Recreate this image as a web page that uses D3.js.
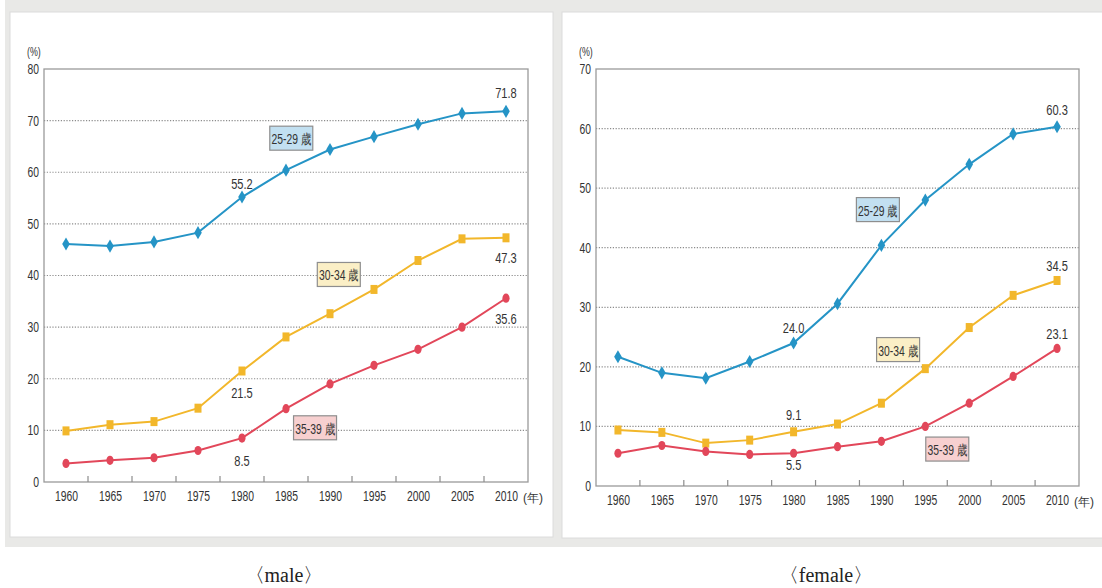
<!DOCTYPE html>
<html>
<head>
<meta charset="utf-8">
<script src="https://cdn.jsdelivr.net/npm/d3@7.9.0/dist/d3.min.js"></script>
<style>
  body { margin: 0; background: #fff; }
  text { font-family: "Liberation Sans", Arial, sans-serif; fill: #333; }
  .caption { font-family: "Liberation Serif", "DejaVu Serif", serif; font-size: 20px; fill: #222; }
</style>
</head>
<body>
<svg id="chart" width="1102" height="588"></svg>
<script>
// data (never-married rate, %)
const years = [1960, 1965, 1970, 1975, 1980, 1985, 1990, 1995, 2000, 2005, 2010];
const groups = ['25-29 歳', '30-34 歳', '35-39 歳'];

const male2529 = [46.1, 45.7, 46.5, 48.3, 55.2, 60.4, 64.4, 66.9, 69.3, 71.4, 71.8];
const male3034 = [9.9, 11.1, 11.7, 14.3, 21.5, 28.1, 32.6, 37.3, 42.9, 47.1, 47.3];
const male3539 = [3.6, 4.2, 4.7, 6.1, 8.5, 14.2, 19.0, 22.6, 25.7, 30.0, 35.6];

const female2529 = [21.7, 19.0, 18.1, 20.9, 24.0, 30.6, 40.4, 48.0, 54.0, 59.1, 60.3];
const female3034 = [9.4, 9.0, 7.2, 7.7, 9.1, 10.4, 13.9, 19.7, 26.6, 32.0, 34.5];
const female3539 = [5.5, 6.8, 5.8, 5.3, 5.5, 6.6, 7.5, 10.0, 13.9, 18.4, 23.1];

const maleTicks = [0, 10, 20, 30, 40, 50, 60, 70, 80];
const femaleTicks = [0, 10, 20, 30, 40, 50, 60, 70];

// where the group tag boxes sit, in data units [year, value]
const maleTagYears = [1985.6, 1991.0, 1988.3];
const maleTagVals = [66.6, 40.2, 10.5];
const femaleTagYears = [1989.6, 1991.9, 1997.5];
const femaleTagVals = [46.4, 22.9, 6.2];

// value labels: [series, year index, offset]
const maleLabels = [[0, 4, -14], [0, 10, -19], [1, 4, 21], [1, 10, 20], [2, 4, 22], [2, 10, 20]];
const femaleLabels = [[0, 4, -16], [0, 10, -17], [1, 4, -17], [1, 10, -15], [2, 4, 11], [2, 10, -15]];

const colors = ['#2594c6', '#f2b72b', '#e2475a'];
const tagFills = ['#c2e0f1', '#fbefc6', '#f7d0d0'];

const svg = d3.select('#chart');

// grey backdrop + white panels
svg.append('rect').attr('x', 5).attr('y', 0).attr('width', 1097).attr('height', 547).attr('fill', '#e9e9e7');
svg.append('rect').attr('x', 10).attr('y', 12).attr('width', 543).attr('height', 525)
  .attr('fill', '#fff').attr('stroke', '#dcdcdc');
svg.append('rect').attr('x', 562).attr('y', 12).attr('width', 545).attr('height', 526)
  .attr('fill', '#fff').attr('stroke', '#dcdcdc');

function drawChart(opt) {
  const { left, right, top, bottom, yMax, ticks, series, tagYears, tagVals, labels } = opt;
  const g = svg.append('g');

  const x = d3.scaleLinear().domain([1957.5, 2012.5]).range([left, right]);
  const y = d3.scaleLinear().domain([0, yMax]).range([bottom, top]);

  // dotted grid
  g.selectAll('.grid')
    .data(ticks.filter(t => t > 0 && t < yMax))
    .join('line')
    .attr('x1', left).attr('x2', right)
    .attr('y1', d => y(d)).attr('y2', d => y(d))
    .attr('stroke', '#8c8c8c').attr('stroke-width', 1.2)
    .attr('stroke-dasharray', '1.2,1.6');

  // frame
  g.append('rect')
    .attr('x', left).attr('y', top)
    .attr('width', right - left).attr('height', bottom - top)
    .attr('fill', 'none').attr('stroke', '#9a9a9a').attr('stroke-width', 1.3);

  // small ticks between years, pointing up
  const bounds = years.slice(1).map(yr => yr - 2.5);
  g.selectAll('.tk')
    .data(bounds)
    .join('line')
    .attr('x1', d => x(d)).attr('x2', d => x(d))
    .attr('y1', bottom).attr('y2', bottom - 6)
    .attr('stroke', '#8c8c8c').attr('stroke-width', 1.2);

  // axes (labels only)
  const xAxis = g.append('g')
    .attr('transform', `translate(0,${bottom})`)
    .call(d3.axisBottom(x).tickValues(years).tickFormat(d3.format('d')).tickSize(0).tickPadding(9));
  xAxis.select('.domain').remove();
  xAxis.selectAll('text').attr('font-size', 14).attr('font-family', null).attr('class', 'narrow').style('fill', '#333');

  g.append('text')
    .attr('x', x(2010) + 17).attr('y', bottom + 20)
    .attr('font-size', 12)
    .text('(年)');

  const yAxis = g.append('g')
    .attr('transform', `translate(${left},0)`)
    .call(d3.axisLeft(y).tickValues(ticks).tickSize(0).tickPadding(5));
  yAxis.select('.domain').remove();
  yAxis.selectAll('text').attr('font-size', 14).attr('font-family', null).attr('class', 'narrow').style('fill', '#333');

  g.append('text')
    .attr('class', 'narrow')
    .attr('x', left - 17).attr('y', top - 13)
    .attr('font-size', 12)
    .text('(%)');

  // lines + markers
  const line = d3.line().x((d, i) => x(years[i])).y(d => y(d));
  series.forEach((vals, s) => {
    g.append('path')
      .attr('d', line(vals))
      .attr('fill', 'none')
      .attr('stroke', colors[s])
      .attr('stroke-width', 2);

    const pts = g.append('g').selectAll('.pt').data(vals).join('g')
      .attr('transform', (d, i) => `translate(${x(years[i])},${y(d)})`);
    if (s === 0) {
      pts.append('path').attr('d', d3.symbol(d3.symbolDiamond, 50)).attr('fill', colors[s]);
    } else if (s === 1) {
      pts.append('rect').attr('x', -3.5).attr('y', -4.5).attr('width', 7).attr('height', 9).attr('fill', colors[s]);
    } else {
      pts.append('ellipse').attr('rx', 3.6).attr('ry', 4.6).attr('fill', colors[s]);
    }
  });

  // value labels
  labels.forEach(([s, i, dy]) => {
    g.append('text')
      .attr('class', 'narrow')
      .attr('x', x(years[i])).attr('y', y(series[s][i]) + dy)
      .attr('text-anchor', 'middle').attr('dominant-baseline', 'central')
      .attr('font-size', 15)
      .text(series[s][i].toFixed(1));
  });

  // group tags
  groups.forEach((name, s) => {
    const cx = x(tagYears[s]), cy = y(tagVals[s]);
    g.append('rect')
      .attr('x', cx - 21.5).attr('y', cy - 12)
      .attr('width', 43).attr('height', 24)
      .attr('fill', tagFills[s]).attr('stroke', '#8e8e8e').attr('stroke-width', 1.2);
    g.append('text')
      .attr('class', 'narrow')
      .attr('x', cx).attr('y', cy + 1)
      .attr('text-anchor', 'middle').attr('dominant-baseline', 'central')
      .attr('font-size', 14)
      .text(name);
  });
}

drawChart({
  left: 44, right: 528, top: 69, bottom: 482, yMax: 80, ticks: maleTicks,
  series: [male2529, male3034, male3539],
  tagYears: maleTagYears, tagVals: maleTagVals, labels: maleLabels
});

drawChart({
  left: 596, right: 1079, top: 69, bottom: 486, yMax: 70, ticks: femaleTicks,
  series: [female2529, female3034, female3539],
  tagYears: femaleTagYears, tagVals: femaleTagVals, labels: femaleLabels
});

// squeeze the sans labels to look like the condensed face of the original
svg.selectAll('text.narrow').each(function () {
  const w = this.getComputedTextLength();
  this.setAttribute('textLength', (w * 0.74).toFixed(1));
  this.setAttribute('lengthAdjust', 'spacingAndGlyphs');
});

// captions
svg.append('text').attr('class', 'caption').attr('x', 284).attr('y', 582).attr('text-anchor', 'middle').text('〈male〉');
svg.append('text').attr('class', 'caption').attr('x', 826).attr('y', 582).attr('text-anchor', 'middle').text('〈female〉');
</script>
</body>
</html>
